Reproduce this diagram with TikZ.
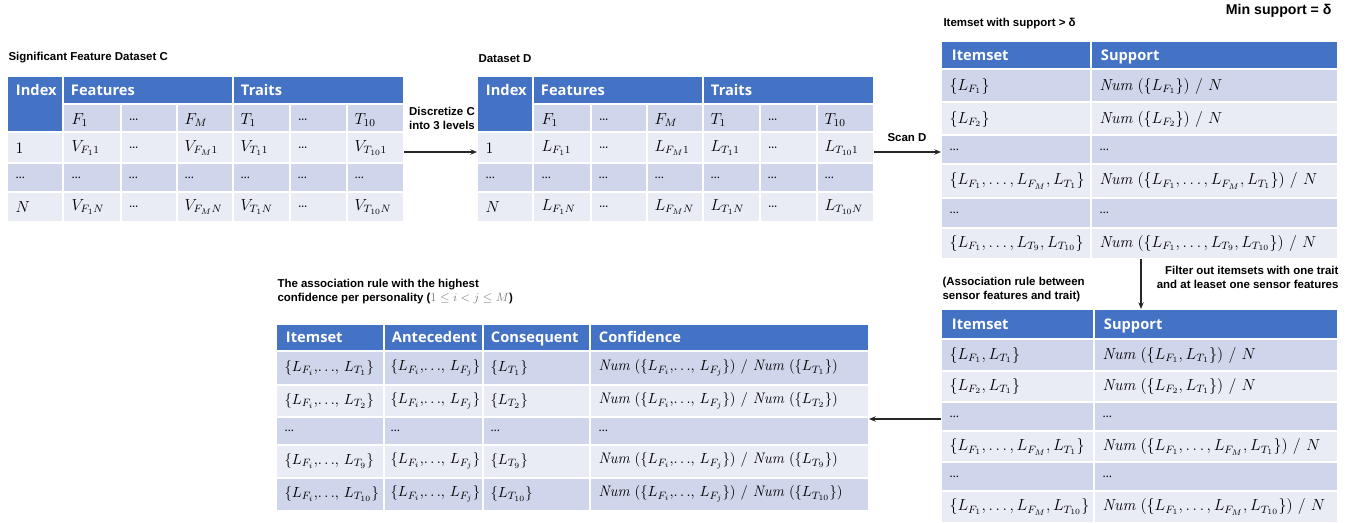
\documentclass[tikz,border=0pt]{standalone}
\usepackage{amsmath}
\usepackage{fontspec}
\newfontfamily\hdrfont{Open Sans}
\newfontfamily\ttlfont{Liberation Sans}
\usetikzlibrary{arrows.meta}

\definecolor{hdrblue}{HTML}{4472C4}
\definecolor{rowdark}{HTML}{CFD5EA}
\definecolor{rowlight}{HTML}{E9EBF5}

\begin{document}
\begin{tikzpicture}[x=0.75pt, y=-0.75pt, thick,
    sep/.style={white, line width=1.5pt},
    htext/.style={anchor=west, text=white, text height=1.95ex, text depth=0.35ex, font=\hdrfont\bfseries\fontsize{11}{13}\selectfont},
    cell/.style={anchor=west, inner sep=0pt, font=\fontsize{12}{14}\selectfont},
    rcell/.style={cell, font=\fontsize{11.4}{13}\selectfont},
    dots/.style={anchor=west, inner sep=0pt, font=\hdrfont\fontsize{9}{11}\selectfont},
    ttl/.style={anchor=west, inner sep=0pt, font=\ttlfont\bfseries\fontsize{8.6}{10.5}\selectfont},
    flow/.style={-{Stealth[length=5pt,width=4pt]}, line width=1pt, black!85}]
  \useasboundingbox (0,0) rectangle (1355,522);

  % tabellen C und D
  \foreach \dx/\v/\tbl in {0/V/C, 470/L/D} {
    \begin{scope}[shift={(\dx,0)}]
      \fill[hdrblue] (8,77) rectangle (403,104);
      \fill[hdrblue] (8,104) rectangle (63,132);
      \fill[rowdark] (63,104) rectangle (403,132);
      \fill[rowlight] (8,132) rectangle (403,163);
      \fill[rowdark] (8,163) rectangle (403,192);
      \fill[rowlight] (8,192) rectangle (403,221);
      \draw[sep] (63,77) -- (63,221);
      \draw[sep] (233,77) -- (233,221);
      \foreach \x in {121,177,290,347} \draw[sep] (\x,104) -- (\x,221);
      \draw[sep] (63,104) -- (403,104);
      \foreach \y in {132,163,192} \draw[sep] (8,\y) -- (403,\y);

      \node[htext] (\tbl-idx) at (11,91) {Index};
      \node[htext] (\tbl-feat) at (66,91) {Features};
      \node[htext] (\tbl-trait) at (236,91) {Traits};
      \foreach \x/\t [count=\i] in {71/{$F_1$}, 128/\ldots, 184/{$F_M$}, 240/{$T_1$}, 297/\ldots, 354/{$T_{10}$}}
        \node[cell] (\tbl-s\i) at (\x,120) {\t};
      \foreach \x/\t [count=\i] in {15/{$1$}, 71/{$\v_{F_1 1}$}, 128/\ldots, 184/{$\v_{F_M 1}$}, 240/{$\v_{T_1 1}$}, 297/\ldots, 354/{$\v_{T_{10} 1}$}}
        \node[cell] (\tbl-a\i) at (\x,148) {\t};
      \foreach \x [count=\i] in {15,71,128,184,240,297,354}
        \node[dots] (\tbl-b\i) at (\x,178) {\ldots};
      \foreach \x/\t [count=\i] in {15/{$N$}, 71/{$\v_{F_1 N}$}, 128/\ldots, 184/{$\v_{F_M N}$}, 240/{$\v_{T_1 N}$}, 297/\ldots, 354/{$\v_{T_{10} N}$}}
        \node[cell] (\tbl-c\i) at (\x,207) {\t};
    \end{scope}
  }
  \node[ttl] (ttlC) at (8,58) {Significant Feature Dataset C};
  \node[ttl] (ttlD) at (478,59) {Dataset D};

  % itemsets mit support > delta
  \fill[hdrblue] (942,42) rectangle (1337,69);
  \foreach \ya/\yb/\c in {69/102/rowdark, 102/135/rowlight, 135/164/rowdark, 164/198/rowlight, 198/228/rowdark, 228/258/rowlight}
    \fill[\c] (942,\ya) rectangle (1337,\yb);
  \draw[sep] (1091,42) -- (1091,258);
  \foreach \y in {69,102,135,164,198,228} \draw[sep] (942,\y) -- (1337,\y);
  \node[htext] (S-h1) at (947,56) {Itemset};
  \node[htext] (S-h2) at (1096,56) {Support};
  \node[cell] (S-a1) at (949,86) {$\{L_{F_1}\}$};
  \node[cell] (S-a2) at (1099,86) {$\mathit{Num}\ (\{L_{F_1}\})\ /\ N$};
  \node[cell] (S-b1) at (949,119) {$\{L_{F_2}\}$};
  \node[cell] (S-b2) at (1099,119) {$\mathit{Num}\ (\{L_{F_2}\})\ /\ N$};
  \node[dots] (S-c1) at (949,150) {\ldots};
  \node[dots] (S-c2) at (1099,150) {\ldots};
  \node[cell] (S-d1) at (949,181) {$\{L_{F_1},\ldots,L_{F_M},L_{T_1}\}$};
  \node[cell] (S-d2) at (1099,181) {$\mathit{Num}\ (\{L_{F_1},\ldots,L_{F_M},L_{T_1}\})\ /\ N$};
  \node[dots] (S-e1) at (949,213) {\ldots};
  \node[dots] (S-e2) at (1099,213) {\ldots};
  \node[cell] (S-f1) at (949,243) {$\{L_{F_1},\ldots,L_{T_9},L_{T_{10}}\}$};
  \node[cell] (S-f2) at (1099,243) {$\mathit{Num}\ (\{L_{F_1},\ldots,L_{T_9},L_{T_{10}}\})\ /\ N$};
  \node[ttl] (ttlS) at (943,24) {Itemset with support > δ};
  \node[ttl, anchor=east, font=\ttlfont\bfseries\fontsize{10.6}{12}\selectfont] (minsup) at (1332,11) {Min support = δ};

  % regeln zwischen sensor features und trait
  \fill[hdrblue] (942,310) rectangle (1337,339);
  \foreach \ya/\yb/\c in {339/371/rowdark, 371/402/rowlight, 402/431/rowdark, 431/462/rowlight, 462/491/rowdark, 491/522/rowlight}
    \fill[\c] (942,\ya) rectangle (1337,\yb);
  \draw[sep] (1094,310) -- (1094,522);
  \foreach \y in {339,371,402,431,462,491} \draw[sep] (942,\y) -- (1337,\y);
  \node[htext] (R-h1) at (947,325) {Itemset};
  \node[htext] (R-h2) at (1099,325) {Support};
  \node[cell] (R-a1) at (949,355) {$\{L_{F_1},L_{T_1}\}$};
  \node[cell] (R-a2) at (1102,355) {$\mathit{Num}\ (\{L_{F_1},L_{T_1}\})\ /\ N$};
  \node[cell] (R-b1) at (949,386) {$\{L_{F_2},L_{T_1}\}$};
  \node[cell] (R-b2) at (1102,386) {$\mathit{Num}\ (\{L_{F_2},L_{T_1}\})\ /\ N$};
  \node[dots] (R-c1) at (949,417) {\ldots};
  \node[dots] (R-c2) at (1102,417) {\ldots};
  \node[cell] (R-d1) at (949,447) {$\{L_{F_1},\ldots,L_{F_M},L_{T_1}\}$};
  \node[cell] (R-d2) at (1102,447) {$\mathit{Num}\ (\{L_{F_1},\ldots,L_{F_M},L_{T_1}\})\ /\ N$};
  \node[dots] (R-e1) at (949,477) {\ldots};
  \node[dots] (R-e2) at (1102,477) {\ldots};
  \node[cell] (R-f1) at (949,507) {$\{L_{F_1},\ldots,L_{F_M},L_{T_{10}}\}$};
  \node[cell] (R-f2) at (1102,507) {$\mathit{Num}\ (\{L_{F_1},\ldots,L_{F_M},L_{T_{10}}\})\ /\ N$};
  \node[ttl, align=left] (ttlR) at (942,290) {(Association rule between\\sensor features and trait)};

  % regeln mit hoechster confidence
  \fill[hdrblue] (277,325) rectangle (868,351);
  \foreach \ya/\yb/\c in {351/385/rowdark, 385/417/rowlight, 417/445/rowdark, 445/478/rowlight, 478/510/rowdark}
    \fill[\c] (277,\ya) rectangle (868,\yb);
  \foreach \x in {384,483,590} \draw[sep] (\x,325) -- (\x,510);
  \foreach \y in {351,385,417,445,478} \draw[sep] (277,\y) -- (868,\y);
  \node[htext] (A-h1) at (281,338) {Itemset};
  \node[htext] (A-h2) at (387,338) {Antecedent};
  \node[htext] (A-h3) at (486,338) {Consequent};
  \node[htext] (A-h4) at (594,338) {Confidence};
  \foreach \y/\k [count=\i] in {368/1, 401/2, 461/9, 494/{10}} {
    \node[rcell] (A-\i a) at (284,\y) {$\{L_{F_i},\!{\ldots},\,L_{T_{\k}}\}$};
    \node[rcell] (A-\i b) at (390,\y) {$\{L_{F_i},\!{\ldots},\,L_{F_j}\}$};
    \node[rcell] (A-\i c) at (490,\y) {$\{L_{T_{\k}}\}$};
    \node[rcell] (A-\i d) at (598,\y) {$\mathit{Num}\ (\{L_{F_i},\!{\ldots},\,L_{F_j}\})\ /\ \mathit{Num}\ (\{L_{T_{\k}}\})$};
  }
  \foreach \x [count=\i] in {284,390,490,598}
    \node[dots] (A-dots\i) at (\x,431) {\ldots};
  \node[ttl, align=left] (ttlA) at (277,292) {The association rule with the highest\\confidence per personality (\textcolor{gray}{$1\le i<j\le M$})};

  % pfeile
  \coordinate (C-out) at (404,152);
  \coordinate (D-in) at (477,152);
  \coordinate (D-out) at (874,152);
  \coordinate (S-in) at (941,152);
  \coordinate (S-out) at (1141,259);
  \coordinate (R-in) at (1141,309);
  \coordinate (R-out) at (941,419);
  \coordinate (A-in) at (869,419);
  \draw[flow] (C-out) -- (D-in);
  \draw[flow] (D-out) -- (S-in);
  \draw[flow] (S-out) -- (R-in);
  \draw[flow] (R-out) -- (A-in);

  \node[ttl, anchor=center, align=center] (discr) at (442,118) {Discretize C\\into 3 levels};
  \node[ttl, anchor=center] (scan) at (907,138) {Scan D};
  \node[ttl, anchor=east, align=right] (filt) at (1339,277) {Filter out itemsets with one trait\\and at leaset one sensor features};
\end{tikzpicture}
\end{document}
